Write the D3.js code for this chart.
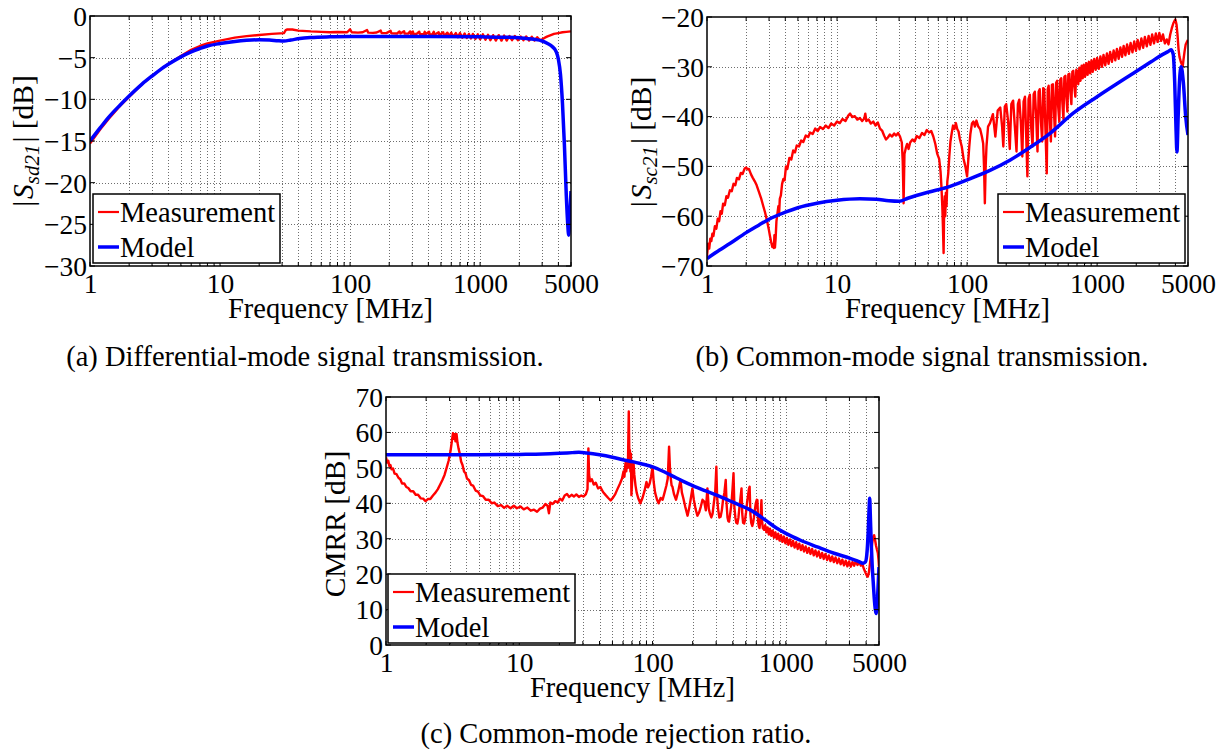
<!DOCTYPE html>
<html><head><meta charset="utf-8">
<script src="https://cdn.jsdelivr.net/npm/d3@7"></script>
<style>body{margin:0;background:#fff;} svg{display:block;}</style>
</head><body><svg id="chart" width="1227" height="751"></svg>
<script>
// ---------------- DATA ----------------
const freqTickValues = [1, 10, 100, 1000, 5000];
const sd21Ticks = [-30, -25, -20, -15, -10, -5, 0];
const sc21Ticks = [-70, -60, -50, -40, -30, -20];
const cmrrTicks = [0, 10, 20, 30, 40, 50, 60, 70];
const legendLabels = ["Measurement", "Model"];
const captionA = "(a) Differential-mode signal transmission.";
const captionB = "(b) Common-mode signal transmission.";
const captionC = "(c) Common-mode rejection ratio.";
const xAxisTitle = "Frequency [MHz]";

// (a) |Sd21| measurement [MHz, dB]
const sd21Measurement = [
 [1,-15.3],[1.2,-13.6],[1.4,-12.3],[1.7,-10.8],[2,-9.7],[2.5,-8.2],[3,-7.2],[3.5,-6.4],[4,-5.75],[5,-4.8],
 [6,-4.05],[7,-3.6],[8,-3.3],[10,-2.95],[13,-2.6],[16,-2.42],[20,-2.28],[25,-2.15],[29,-2.08],[31,-2.05],
 [32,-1.7],[33,-1.6],[36,-1.62],[40,-1.75],[50,-1.85],[60,-1.9],[70,-1.95],[80,-1.92],[95,-1.95],
 [100,-1.6],[103,-1.95],[115,-2.0],[125,-1.95],[135,-1.68],[138,-2.0],[150,-2.02],[160,-1.98],[172,-1.75],
 [175,-2.05],[190,-2.05],[205,-1.78],[208,-2.08],[230,-2.1],[240,-1.85],[244,-2.1],[260,-1.82],[263,-2.12],
 [280,-2.12],[290,-1.85],[294,-2.15],[304,-1.85],[307,-2.15],[325,-2.15],[340,-1.88],[345,-2.18],[370,-2.15],
 [375,-1.9],[380,-2.2],[405,-1.88],[410,-2.22],[430,-2.2],[440,-1.9],[445,-2.25],[480,-1.95],[485,-2.3],
 [520,-1.95],[530,-2.4],[560,-2.0],[580,-2.45],[600,-2.0],[620,-2.5],[650,-2.05],[675,-2.55],[700,-2.05],
 [730,-2.6],[760,-2.1],[790,-2.65],[820,-2.15],[850,-2.7],[880,-2.15],[920,-2.75],[960,-2.2],[1000,-2.8],
 [1050,-2.2],[1100,-2.85],[1150,-2.25],[1200,-2.9],[1260,-2.3],[1320,-2.95],[1390,-2.3],[1460,-2.95],
 [1530,-2.35],[1600,-2.95],[1680,-2.4],[1760,-2.9],[1850,-2.4],[1950,-2.9],[2050,-2.45],[2150,-2.9],
 [2260,-2.45],[2380,-2.95],[2500,-2.5],[2620,-2.95],[2750,-2.55],[2880,-2.9],[3000,-2.8],[3150,-2.6],
 [3300,-2.45],[3500,-2.3],[3700,-2.15],[4000,-2.05],[4300,-1.95],[4600,-1.9],[5000,-1.85]
];
// (a) |Sd21| model
const sd21Model = [
 [1,-15.0],[1.2,-13.4],[1.4,-12.1],[1.7,-10.7],[2,-9.6],[2.5,-8.2],[3,-7.2],[3.5,-6.4],[4,-5.8],[5,-4.9],
 [6,-4.3],[7,-3.9],[8,-3.6],[10,-3.3],[13,-3.05],[16,-2.92],[20,-2.85],[24,-2.88],[28,-2.97],[31,-3.0],
 [35,-2.88],[41,-2.7],[50,-2.58],[70,-2.5],[100,-2.47],[300,-2.45],[1000,-2.5],[1600,-2.55],[2000,-2.62],
 [2600,-2.8],[3000,-3.0],[3300,-3.3],[3600,-3.7],[3850,-4.3],[4000,-5.2],[4150,-7],[4300,-10.5],
 [4450,-15.5],[4600,-21.5],[4720,-25],[4800,-26.3],[4880,-24.5],[5000,-21]
];

// (b) |Sc21| measurement
const sc21Measurement = [
 [1,-68],[1.02,-65.5],[1.04,-66.5],[1.06,-64.5],[1.08,-65],[1.1,-63.5],[1.12,-64],[1.15,-62],[1.18,-62.5],
 [1.21,-60.5],[1.24,-61],[1.27,-59],[1.3,-59.5],[1.33,-57.5],[1.37,-57.8],[1.41,-56],[1.45,-56.3],[1.5,-54.8],
 [1.55,-55],[1.6,-53.5],[1.65,-53.8],[1.7,-52.3],[1.76,-52.6],[1.82,-51.3],[1.88,-51.5],[1.95,-50.4],[2.0,-50.2],
 [2.05,-50.6],[2.1,-50.5],[2.18,-51.6],[2.25,-52.3],[2.33,-53],[2.41,-53.8],[2.5,-55],[2.6,-56.3],[2.71,-58],
 [2.8,-59.3],[2.9,-61],[2.98,-62.5],[3.05,-64],[3.12,-65.3],[3.18,-66.2],[3.23,-65.5],[3.27,-66.4],[3.3,-63.8],
 [3.33,-66.3],[3.37,-64.5],[3.42,-61],[3.48,-59.5],[3.54,-58],[3.58,-59.8],[3.63,-56.5],[3.7,-55.8],[3.78,-53.5],
 [3.87,-52.5],[3.95,-52.8],[4.05,-50],[4.15,-50.5],[4.3,-48.3],[4.45,-48.6],[4.6,-46.8],[4.75,-47.2],[4.9,-45.8],
 [5.1,-46],[5.3,-44.8],[5.5,-45.1],[5.75,-43.8],[6,-44.1],[6.2,-43.2],[6.5,-43.5],[6.8,-42.4],[7.1,-42.9],
 [7.4,-42.1],[7.8,-42.5],[8.2,-41.8],[8.6,-42.3],[9,-41.4],[9.5,-41.8],[10,-41],[10.5,-41.3],[11,-40.5],
 [11.6,-40.9],[12.2,-39.8],[12.6,-39.4],[13.1,-40.1],[13.7,-39.9],[14.3,-40.6],[15,-40.3],[15.6,-40.9],
 [16.2,-40.4],[16.5,-39.4],[16.8,-40.9],[17.5,-40.6],[18.2,-41.4],[19,-41],[19.8,-41.8],[20.6,-41.2],
 [21.4,-42.4],[22.2,-42.8],[23,-43.8],[23.8,-44.6],[24.6,-44.2],[25.5,-43.6],[26.5,-44],[27.5,-43.4],
 [28.5,-43.8],[29.5,-43.3],[30.5,-44],[31.5,-45.2],[32,-49],[32.5,-57.4],[33,-47.5],[33.8,-46.3],[34.6,-45.5],
 [35.5,-46.5],[36.5,-45.2],[38,-44.6],[39.5,-45],[41,-43.9],[43,-44.3],[45,-43.3],[47,-43.7],[49,-42.7],
 [51,-43.2],[53,-42.9],[55,-44],[57,-45.5],[59,-47.5],[61,-48.5],[62.5,-51],[63.5,-54],[64.5,-58],[65.2,-62],
 [66,-67.4],[66.6,-59],[67.3,-56],[68,-60],[68.7,-55.3],[69.5,-58],[70.5,-53],[71.6,-51.5],[73,-48],[74.5,-45],
 [76,-43.5],[78,-41.8],[80,-42.5],[82,-41.3],[84,-42.5],[86,-43],[88,-44.5],[91,-46],[94,-48.5],[97,-50],
 [100,-52],[102,-49],[104,-46],[106,-43.5],[109,-41.4],[112,-41],[115,-42],[118,-40.8],[122,-42],[126,-42.5],
 [130,-44],[133,-45.4],[135,-50],[137,-57.4],[139,-50],[141,-46],[145,-42],[150,-41.3],
 [158,-39.5],[165,-44],[172,-38.8],[180,-38.2],[186,-42],[190,-46],[195,-38],[200,-37.5],[207,-41],[213,-46.5],
 [219,-37.5],[226,-36.8],[233,-42],[240,-47],[246,-37.5],[252,-36.6],[259,-41],[266,-48],[272,-37],[279,-36],
 [285,-44],[291,-52],[297,-36.5],[304,-35.6],[311,-42],[319,-46],[325,-35.5],[332,-35],[340,-40],[348,-47],
 [355,-35],[362,-34.5],[370,-41],[378,-45],[385,-34.3],[392,-34.5],[400,-42],[410,-51.4],[417,-34.5],
 [424,-33.8],[432,-40],[441,-45],[449,-33.6],[457,-33.5],[466,-39],[475,-44],[484,-33.2],[493,-32.8],
 [502,-38],[512,-41],[521,-32.6],[530,-32.3],[540,-37],[551,-40.5],[560,-32],[570,-31.8],[580,-36],[591,-39],
 [601,-31.5],[612,-31.4],[623,-35],[634,-37.5],[645,-31],[656,-30.8],[668,-34],[680,-36],[692,-30.6],
 [704,-31],[716,-33.5],
 [730,-30.2],[745,-32.8],[760,-29.8],[775,-32.3],[790,-29.6],[808,-32],[826,-29.3],[845,-31.6],[865,-29],
 [885,-31.3],[905,-28.7],[925,-31],[950,-28.4],[975,-30.6],[1000,-28.2],[1030,-30.4],[1060,-27.9],[1090,-30],
 [1120,-27.6],[1155,-29.7],[1190,-27.3],[1225,-29.4],[1260,-27],[1300,-29],[1340,-26.7],[1380,-28.7],
 [1420,-26.4],[1465,-28.4],[1510,-26.1],[1555,-28],[1600,-25.8],[1650,-27.7],[1700,-25.5],[1755,-27.4],
 [1810,-25.2],[1870,-27.1],[1930,-24.9],[1990,-26.8],[2050,-24.6],[2120,-26.5],[2190,-24.3],[2260,-26.2],
 [2330,-24],[2410,-25.9],[2490,-23.8],[2570,-25.6],[2650,-23.5],[2740,-25.3],[2830,-23.3],[2920,-25],
 [3010,-23.2],[3110,-24.8],[3210,-23.5],[3320,-25.3],[3430,-24.5],[3540,-25.5],[3650,-23.5],[3750,-22.3],
 [3850,-21.3],[3950,-20.7],[4000,-20.5],[4080,-21.5],[4150,-23.5],[4230,-26.5],[4300,-28],[4400,-29],
 [4480,-29.5],[4550,-30],[4620,-28.5],[4700,-27],[4800,-25.5],[4900,-25],[5000,-24.6]
];
// (b) |Sc21| model
const sc21Model = [
 [1,-68.5],[1.25,-66.8],[1.5,-65.5],[2,-63.3],[2.5,-61.8],[3,-60.6],[4,-59.2],[5,-58.3],[7,-57.4],[10,-56.8],
 [15,-56.5],[20,-56.6],[25,-56.9],[30,-57.0],[35,-56.4],[50,-55.2],[70,-54.2],[100,-52.7],[150,-50.8],
 [215,-48.7],[300,-46.3],[437,-43.3],[655,-39.3],[1000,-36.0],[1400,-33.5],[1900,-31.3],[2600,-29],
 [3200,-27.5],[3480,-27],[3700,-26.6],[3850,-27.5],[3950,-33],[4050,-43],[4110,-47.1],[4200,-40],
 [4300,-33],[4430,-30],[4600,-33],[4800,-40],[5000,-43.7]
];

// (c) CMRR measurement
const cmrrMeasurement = [
 [1,53],[1.02,51.5],[1.04,52],[1.06,50.5],[1.08,50.8],[1.1,49.6],[1.13,49.8],[1.16,48.4],[1.2,48.2],[1.24,47.2],
 [1.28,46.8],[1.32,45.6],[1.37,45.6],[1.42,44.6],[1.47,44.3],[1.53,43.4],[1.6,43.4],[1.67,42.4],[1.74,42.4],
 [1.82,41.4],[1.9,41.3],[1.98,40.6],[2.06,41.2],[2.15,41.2],[2.25,42.2],[2.35,43],[2.45,44],[2.55,45.3],
 [2.65,46.6],[2.75,48],[2.85,50],[2.95,52],[3.05,54.8],[3.12,57.5],[3.18,59.8],[3.22,58.2],[3.27,59.5],
 [3.32,57.5],[3.38,59.6],[3.44,57],[3.5,55.5],[3.58,54],[3.66,51.8],[3.75,50.8],[3.85,49],[3.95,48.5],
 [4.05,47],[4.2,46.5],[4.35,45.2],[4.5,45],[4.7,43.6],[4.9,43.3],[5.1,42.2],[5.35,42],[5.6,41],[5.9,41],
 [6.2,40],[6.5,40.2],[6.9,39.2],[7.3,39.5],[7.7,38.7],[8.1,39.3],[8.6,38.6],[9.1,39.3],[9.6,38.6],[10.2,39.1],
 [10.8,38.3],[11.5,38.8],[12.2,37.9],[12.9,38.2],[13.6,37.6],[14.3,38.5],[15,38.8],[15.7,39.8],[16.3,39.3],
 [16.7,37.2],[17.1,40.2],[17.8,39.8],[18.6,40.6],[19.4,40.2],[20.2,41.3],[21,40.8],[21.9,42.2],[22.8,42.6],
 [23.7,41.8],[24.7,42.4],[25.7,41.9],[26.8,42.5],[28,41.8],[29.2,42.2],[30.4,41.9],[31.6,42.6],[32.5,44],
 [33,55.5],[33.4,48],[34,46.2],[35,46.8],[36.2,45.3],[37.5,45.8],[39,44.2],[40.6,44.6],[42.5,43.2],[44.5,42.3],
 [46.5,41.5],[48.5,40.8],[50.5,41.6],[52.5,42.6],[54.5,44],[57,45.6],[59,47],[60.5,49],[61.5,47.5],[62.6,51.3],
 [63.5,49],[64.5,52],[65.3,50],[66.3,65.9],[67,53],[67.6,55],[68.2,49],[68.8,54],[69.4,42.3],[70.2,46],[71,50],
 [72,51.3],[73,48],[74.5,45],[76,43],[78,41.5],[81,40],[84,41.5],[87,43.5],[90,46],[92.5,44.5],[95,45.5],
 [97.5,47.5],[100,50.3],[102,46],[104.5,43],[108,41],[111,40],[115,41.5],[119,41],[123,43],[127,45],[130,47],
 [133,56],[135,50],[137,47],[139,45],[141,44.7],[145,42.5],[150,41],[156,43.5],[162,46.6],[166,43],[170,41.5],
 [176,39],[183,36.5],[188,38.5],[193,41],[199,44.2],[204,41],[210,38.5],[217,36.5],[224,37.5],[230,39],
 [237,41],[244,40.5],[251,38],[258,44.2],[264,38.5],[270,37],[276,36],[282,37],[288,40],[295,43],[301,50.3],
 [305,42],[310,38.5],[317,36],[324,36.2],[331,38],[338,41],[346,43],[354,46.6],[359,40],[365,36],[370,35],
 [375,34.8],[382,37],[390,39.5],[398,44],[405,48.5],[411,39],[418,36],[425,34.5],[433,34.3],[441,36],[449,39],
 [457,41.5],[465,44.2],[471,37],[478,34.5],[487,34.3],[495,35.5],[503,37.5],[511,40],[520,42],[528,44],
 [535,44.7],[542,37],[550,34.5],[560,33.6],[568,34.5],[576,36],[585,38],[595,40],[605,41],[612,40.9],[619,35],
 [627,33.5],[635,33],[645,35.5],[656,40.9],[663,35],[672,33],[680,32.8],[687,32.5],
 [700,33.8],[715,31.8],[730,33.2],[745,31.2],[760,32.8],[778,30.8],[796,32.3],[815,30.3],[835,31.8],[855,29.9],
 [876,31.4],[897,29.5],[920,31],[943,29.1],[967,30.6],[992,28.7],[1018,30.2],[1045,28.3],[1073,29.8],
 [1102,27.9],[1132,29.4],[1163,27.5],[1195,29],[1228,27.1],[1262,28.6],[1297,26.8],[1333,28.2],[1370,26.4],
 [1408,27.8],[1448,26],[1489,27.4],[1531,25.7],[1575,27.1],[1620,25.3],[1667,26.7],[1715,25],[1765,26.4],
 [1817,24.6],[1870,26],[1925,24.3],[1982,25.7],[2040,24],[2100,25.3],[2163,23.7],[2227,25],[2293,23.4],
 [2361,24.7],[2431,23.1],[2503,24.4],[2577,22.8],[2653,24.1],[2732,22.5],[2813,23.8],[2896,22.2],[2982,23.6],
 [3070,22.1],[3160,23.4],[3255,22.4],[3350,23.7],[3450,22.6],[3550,23.5],[3650,22.4],[3750,22.8],[3850,21.5],
 [3950,20.5],[4050,19.6],[4120,19.3],[4200,20.5],[4280,23],[4360,25.5],[4440,28.5],[4520,30.5],[4600,31],
 [4680,29.5],[4750,28],[4820,27],[4900,26],[4960,24],[5000,22.1]
];
// (c) CMRR model
const cmrrModel = [
 [1,53.7],[5,53.7],[10,53.8],[15,53.9],[20,54.1],[25,54.3],[28,54.4],[32,54.2],[40,53.7],[50,53.0],[60,52.3],
 [72,51.7],[85,51.0],[100,50.3],[125,48.7],[150,47.2],[170,46.2],[200,45.0],[250,43.5],[306,42.2],[400,40.3],
 [548,38.0],[700,35.3],[850,33.0],[1000,31.5],[1300,29.5],[1720,27.7],[2300,25.9],[3070,24.4],[3500,23.6],
 [3800,23.1],[3950,23.4],[4050,25.5],[4150,32],[4220,39],[4260,41.4],[4300,37],[4380,28],[4450,22],[4520,18],
 [4600,13.5],[4700,9.8],[4760,8.9],[4820,10],[4900,15],[5000,22]
];

// ---------------- DRAWING ----------------
const FONT = "'Liberation Serif','Times New Roman',Times,serif";
const svg = d3.select("#chart");
const defs = svg.append("defs");
const fmt = d => d < 0 ? "\u2212" + Math.abs(d) : String(d);

const minorFreqs = [];
[1, 10, 100, 1000].forEach(dec => { for (let k = 1; k <= 9; k++) if (k * dec <= 5000) minorFreqs.push(k * dec); });

function drawPanel(p) {
  const x = d3.scaleLog().domain([1, 5000]).range([p.left, p.right]);
  const y = d3.scaleLinear().domain(p.yDomain).range([p.bottom, p.top]);
  const g = svg.append("g");

  defs.append("clipPath").attr("id", p.id + "-clip").append("rect")
    .attr("x", p.left).attr("y", p.top).attr("width", p.right - p.left).attr("height", p.bottom - p.top);

  // grid
  const grid = g.append("g").attr("stroke", "#6e6e6e").attr("stroke-width", 1).attr("stroke-dasharray", "1,2");
  grid.selectAll("line.v").data(minorFreqs.filter(f => f > 1 && f < 5000)).join("line")
    .attr("x1", d => Math.round(x(d)) + 0.5).attr("x2", d => Math.round(x(d)) + 0.5)
    .attr("y1", p.top).attr("y2", p.bottom);
  grid.selectAll("line.h").data(p.yTicks.slice(1, -1)).join("line")
    .attr("y1", d => Math.round(y(d)) + 0.5).attr("y2", d => Math.round(y(d)) + 0.5)
    .attr("x1", p.left).attr("x2", p.right);

  // curves
  const line = d3.line().x(d => x(d[0])).y(d => y(d[1]));
  const cg = g.append("g").attr("clip-path", `url(#${p.id}-clip)`).attr("fill", "none").attr("stroke-linejoin", "round");
  cg.append("path").datum(p.meas).attr("d", line).attr("stroke", "#ff0000").attr("stroke-width", 2.4);
  cg.append("path").datum(p.model).attr("d", line.curve(d3.curveMonotoneX)).attr("stroke", "#0000ff").attr("stroke-width", 3.5);

  // inner ticks
  const tk = g.append("g").attr("stroke", "#000").attr("stroke-width", 1);
  minorFreqs.forEach(f => {
    const xx = x(f);
    tk.append("line").attr("x1", xx).attr("x2", xx).attr("y1", p.bottom).attr("y2", p.bottom - 4);
    tk.append("line").attr("x1", xx).attr("x2", xx).attr("y1", p.top).attr("y2", p.top + 4);
  });
  p.yTicks.forEach(v => {
    const yy = y(v);
    tk.append("line").attr("x1", p.left).attr("x2", p.left + 5).attr("y1", yy).attr("y2", yy);
    tk.append("line").attr("x1", p.right).attr("x2", p.right - 5).attr("y1", yy).attr("y2", yy);
  });

  // box
  g.append("rect").attr("x", p.left).attr("y", p.top).attr("width", p.right - p.left).attr("height", p.bottom - p.top)
    .attr("fill", "none").attr("stroke", "#000").attr("stroke-width", 1.5);

  // axes (labels)
  const xa = g.append("g").attr("transform", `translate(0,${p.bottom})`)
    .call(d3.axisBottom(x).tickValues(freqTickValues).tickFormat(d => String(d)).tickSize(0));
  xa.select(".domain").remove();
  xa.selectAll("text").attr("y", 27).attr("dy", null).attr("font-family", FONT).attr("font-size", 27.5).attr("fill", "#000");
  const ya = g.append("g").attr("transform", `translate(${p.left},0)`)
    .call(d3.axisLeft(y).tickValues(p.yTicks).tickFormat(fmt).tickSize(0));
  ya.select(".domain").remove();
  ya.selectAll("text").attr("x", -3).attr("dy", "0.34em").attr("font-family", FONT).attr("font-size", 27.5).attr("fill", "#000");

  // x title
  g.append("text").attr("x", (p.left + p.right) / 2).attr("y", p.bottom + 52).attr("text-anchor", "middle")
    .attr("font-family", FONT).attr("font-size", 28.5).text(xAxisTitle);

  // y title
  const yt = g.append("text").attr("transform", `translate(${p.yTitleX},${p.yTitleY}) rotate(-90)`)
    .attr("text-anchor", "middle").attr("font-family", FONT).attr("font-size", 29.5);
  if (p.ySub) {
    yt.append("tspan").text("|");
    yt.append("tspan").attr("font-style", "italic").attr("dx", 2).text("S");
    yt.append("tspan").attr("font-style", "italic").attr("font-size", 21).attr("dy", 6).text(p.ySub);
    yt.append("tspan").attr("dy", -6).attr("dx", 2).text("| [dB]");
  } else {
    yt.text(p.yTitle);
  }

  // legend
  const lg = g.append("g").attr("transform", `translate(${p.legX},${p.legY})`);
  lg.append("rect").attr("x", 0).attr("y", 0).attr("width", 187).attr("height", 69)
    .attr("fill", "#fff").attr("stroke", "#000").attr("stroke-width", 1.5);
  const colors = ["#ff0000", "#0000ff"], widths = [2.2, 3.5];
  legendLabels.forEach((lab, i) => {
    const ly = 18 + i * 35;
    lg.append("line").attr("x1", 5).attr("x2", 26).attr("y1", ly).attr("y2", ly)
      .attr("stroke", colors[i]).attr("stroke-width", widths[i]);
    lg.append("text").attr("x", 27).attr("y", ly + 10).attr("font-family", FONT).attr("font-size", 28.5).text(lab);
  });

  // caption
  svg.append("text").attr("x", p.capX).attr("y", p.capY).attr("text-anchor", "middle")
    .attr("font-family", FONT).attr("font-size", 28.5).text(p.caption);
}

drawPanel({ id: "a", left: 90, right: 571, top: 16, bottom: 266, yDomain: [-30, 0], yTicks: sd21Ticks,
  meas: sd21Measurement, model: sd21Model, ySub: "sd21", yTitleX: 33, yTitleY: 141,
  legX: 93, legY: 194, caption: captionA, capX: 305, capY: 366 });
drawPanel({ id: "b", left: 707, right: 1188, top: 17, bottom: 266, yDomain: [-70, -20], yTicks: sc21Ticks,
  meas: sc21Measurement, model: sc21Model, ySub: "sc21", yTitleX: 651, yTitleY: 142,
  legX: 998, legY: 194, caption: captionB, capX: 922, capY: 366 });
drawPanel({ id: "c", left: 386, right: 879, top: 397, bottom: 645, yDomain: [0, 70], yTicks: cmrrTicks,
  meas: cmrrMeasurement, model: cmrrModel, yTitle: "CMRR [dB]", yTitleX: 345, yTitleY: 524,
  legX: 388, legY: 574, caption: captionC, capX: 616, capY: 743 });
</script></body></html>
